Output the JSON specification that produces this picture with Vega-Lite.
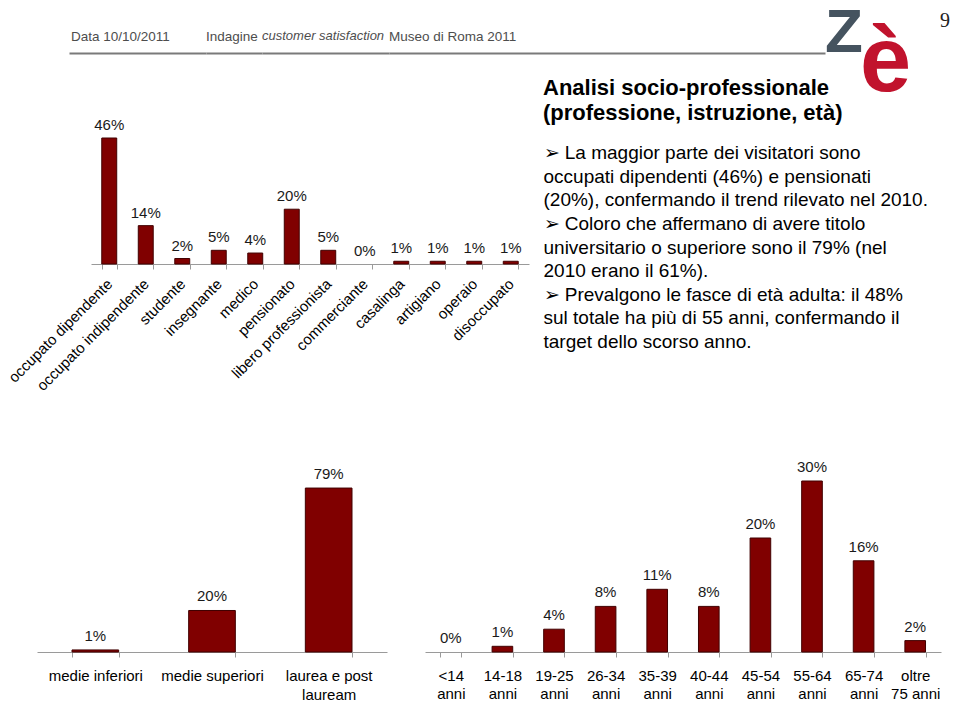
{
  "$schema": "https://vega.github.io/schema/vega-lite/v6.json",
  "background": "white",
  "padding": {"left": 5, "top": 2, "right": 0, "bottom": 0},
  "config": {
    "font": "Liberation Sans",
    "view": {"stroke": null},
    "title": {"font": "Liberation Sans", "color": "#000000", "fontWeight": "normal", "anchor": "start", "frame": "group"},
    "axis": {"labelFont": "Liberation Sans", "grid": false}
  },
  "datasets": {
    "professione": [
      {"professione": "occupato dipendente", "quota": 0.46},
      {"professione": "occupato indipendente", "quota": 0.14},
      {"professione": "studente", "quota": 0.02},
      {"professione": "insegnante", "quota": 0.05},
      {"professione": "medico", "quota": 0.04},
      {"professione": "pensionato", "quota": 0.20},
      {"professione": "libero professionista", "quota": 0.05},
      {"professione": "commerciante", "quota": 0.00},
      {"professione": "casalinga", "quota": 0.01},
      {"professione": "artigiano", "quota": 0.01},
      {"professione": "operaio", "quota": 0.01},
      {"professione": "disoccupato", "quota": 0.01}
    ],
    "istruzione": [
      {"titolo": "medie inferiori", "quota": 0.01},
      {"titolo": "medie superiori", "quota": 0.20},
      {"titolo": "laurea e post lauream", "quota": 0.79}
    ],
    "eta": [
      {"fascia": "<14 anni", "quota": 0.00},
      {"fascia": "14-18 anni", "quota": 0.01},
      {"fascia": "19-25 anni", "quota": 0.04},
      {"fascia": "26-34 anni", "quota": 0.08},
      {"fascia": "35-39 anni", "quota": 0.11},
      {"fascia": "40-44 anni", "quota": 0.08},
      {"fascia": "45-54 anni", "quota": 0.20},
      {"fascia": "55-64 anni", "quota": 0.30},
      {"fascia": "65-74 anni", "quota": 0.16},
      {"fascia": "oltre 75 anni", "quota": 0.02}
    ],
    "testo": [
      {"riga": 1, "testo": "➢ La maggior parte dei visitatori sono"},
      {"riga": 2, "testo": "occupati dipendenti (46%) e pensionati"},
      {"riga": 3, "testo": "(20%), confermando il trend rilevato nel 2010."},
      {"riga": 4, "testo": "➢ Coloro che affermano di avere titolo"},
      {"riga": 5, "testo": "universitario o superiore sono il 79% (nel"},
      {"riga": 6, "testo": "2010 erano il 61%)."},
      {"riga": 7, "testo": "➢ Prevalgono le fasce di età adulta: il 48%"},
      {"riga": 8, "testo": "sul totale ha più di 55 anni, confermando il"},
      {"riga": 9, "testo": "target dello scorso anno."}
    ],
    "vuoto": []
  },
  "bounds": "flush",
  "spacing": 428,
  "vconcat": [
    {
      "bounds": "flush",
      "spacing": 85,
      "vconcat": [
        {
          "bounds": "flush",
          "spacing": 0,
          "hconcat": [
            {
              "width": 169, "height": 1,
              "data": {"name": "vuoto"},
              "mark": "point",
              "encoding": {"x": {"field": "v", "type": "quantitative", "scale": {"domain": [0, 1], "range": [32, 169]}, "axis": {"orient": "top", "domain": true, "domainColor": "#7a7a7a", "domainWidth": 2, "ticks": false, "labels": false, "grid": false, "title": null}}},
              "title": {"text": "Data 10/10/2011", "dx": 34, "fontSize": 13.5, "color": "#4d4d4d", "offset": 10}
            },
            {
              "width": 56, "height": 1,
              "data": {"name": "vuoto"},
              "mark": "point",
              "encoding": {"x": {"field": "v", "type": "quantitative", "scale": {"domain": [0, 1]}, "axis": {"orient": "top", "domain": true, "domainColor": "#7a7a7a", "domainWidth": 2, "ticks": false, "labels": false, "grid": false, "title": null}}},
              "title": {"text": "Indagine", "fontSize": 13.5, "color": "#4d4d4d", "offset": 10}
            },
            {
              "width": 127, "height": 1,
              "data": {"name": "vuoto"},
              "mark": "point",
              "encoding": {"x": {"field": "v", "type": "quantitative", "scale": {"domain": [0, 1]}, "axis": {"orient": "top", "domain": true, "domainColor": "#7a7a7a", "domainWidth": 2, "ticks": false, "labels": false, "grid": false, "title": null}}},
              "title": {"text": "customer satisfaction", "fontSize": 13, "fontStyle": "italic", "color": "#4d4d4d", "offset": 10}
            },
            {
              "width": 436, "height": 1,
              "data": {"name": "vuoto"},
              "mark": "point",
              "encoding": {"x": {"field": "v", "type": "quantitative", "scale": {"domain": [0, 1]}, "axis": {"orient": "top", "domain": true, "domainColor": "#7a7a7a", "domainWidth": 2, "ticks": false, "labels": false, "grid": false, "title": null}}},
              "title": {"text": "Museo di Roma 2011", "fontSize": 13.5, "color": "#4d4d4d", "offset": 10}
            },
            {
              "width": 38, "height": 1,
              "data": {"name": "vuoto"},
              "mark": "point",
              "encoding": {},
              "title": {"text": "Z", "fontWeight": "bold", "fontSize": 62, "color": "#45535f", "baseline": "alphabetic", "offset": 0, "dy": 61}
            },
            {
              "width": 77, "height": 1,
              "data": {"name": "vuoto"},
              "mark": "point",
              "encoding": {},
              "title": {"text": "è", "fontWeight": "bold", "fontSize": 92, "color": "#c1132d", "baseline": "alphabetic", "offset": 0, "dy": 130, "dx": -3}
            },
            {
              "width": 18, "height": 1,
              "data": {"name": "vuoto"},
              "mark": "point",
              "encoding": {},
              "title": {"text": "9", "font": "Liberation Serif", "fontSize": 20, "color": "#222222", "baseline": "alphabetic", "offset": 0, "dy": -6}
            }
          ]
        },
        {
          "bounds": "flush",
          "spacing": 14,
          "hconcat": [
            {
              "width": 492, "height": 126,
              "data": {"name": "professione"},
              "encoding": {
                "x": {"field": "professione", "type": "nominal",
                  "sort": ["occupato dipendente", "occupato indipendente", "studente", "insegnante", "medico", "pensionato", "libero professionista", "commerciante", "casalinga", "artigiano", "operaio", "disoccupato"],
                  "scale": {"range": [54, 492], "paddingInner": 0.59, "paddingOuter": 0.295},
                  "axis": {"title": null, "labelAngle": -45, "labelAlign": "right", "labelBaseline": "middle", "labelFontSize": 15, "labelColor": "#000000", "labelPadding": 12, "labelOverlap": false, "labelLimit": 0, "tickBand": "extent", "tickSize": 5, "tickColor": "#9a9a9a", "domainColor": "#9a9a9a"}},
                "y": {"field": "quota", "type": "quantitative", "scale": {"domain": [0, 0.46], "nice": false}, "axis": null}
              },
              "layer": [
                {"transform": [{"filter": "datum.quota > 0"}], "mark": {"type": "bar", "color": "#800000", "stroke": "#400000", "strokeWidth": 1}},
                {"mark": {"type": "text", "dy": -13, "fontSize": 15, "color": "#1a1a1a", "baseline": "middle"}, "encoding": {"text": {"field": "quota", "format": ".0%"}}}
              ]
            },
            {
              "width": 1, "height": 219,
              "data": {"name": "testo"},
              "title": {"text": ["Analisi socio-professionale", "(professione, istruzione, età)"], "fontSize": 22, "fontWeight": "bold", "color": "#000000", "lineHeight": 25, "offset": 13},
              "mark": {"type": "text", "align": "left", "baseline": "middle", "fontSize": 19, "color": "#000000"},
              "encoding": {
                "y": {"field": "riga", "type": "ordinal", "scale": {"type": "point", "padding": 0.636}, "axis": null},
                "text": {"field": "testo"}
              }
            }
          ]
        }
      ]
    },
    {
      "bounds": "flush",
      "spacing": 38,
      "hconcat": [
        {
          "width": 350, "height": 171,
          "data": {"name": "istruzione"},
          "encoding": {
            "x": {"field": "titolo", "type": "nominal",
              "sort": ["medie inferiori", "medie superiori", "laurea e post lauream"],
              "scale": {"paddingInner": 0.6, "paddingOuter": 0.3},
              "axis": {"title": null, "labelAngle": 0, "labelFontSize": 15, "labelColor": "#000000", "labelPadding": 11, "labelLineHeight": 19, "labelBaseline": "top", "labelLimit": 0, "tickBand": "extent", "tickSize": 5, "tickColor": "#9a9a9a", "domainColor": "#9a9a9a",
                "labelExpr": "datum.label == 'laurea e post lauream' ? ['laurea e post', 'lauream'] : datum.label"}},
            "y": {"field": "quota", "type": "quantitative", "scale": {"domain": [0, 0.824], "nice": false}, "axis": null}
          },
          "layer": [
            {"transform": [{"filter": "datum.quota > 0"}], "mark": {"type": "bar", "color": "#800000", "stroke": "#400000", "strokeWidth": 1}},
            {"mark": {"type": "text", "dy": -14, "fontSize": 15, "color": "#1a1a1a", "baseline": "middle"}, "encoding": {"text": {"field": "quota", "format": ".0%"}}}
          ]
        },
        {
          "width": 516, "height": 171,
          "data": {"name": "eta"},
          "encoding": {
            "x": {"field": "fascia", "type": "nominal",
              "sort": ["<14 anni", "14-18 anni", "19-25 anni", "26-34 anni", "35-39 anni", "40-44 anni", "45-54 anni", "55-64 anni", "65-74 anni", "oltre 75 anni"],
              "scale": {"paddingInner": 0.6, "paddingOuter": 0.3},
              "axis": {"title": null, "labelAngle": 0, "labelFontSize": 15, "labelColor": "#000000", "labelPadding": 11, "labelLineHeight": 18, "labelBaseline": "top", "labelLimit": 0, "tickBand": "extent", "tickSize": 5, "tickColor": "#9a9a9a", "domainColor": "#9a9a9a",
                "labelExpr": "datum.label == 'oltre 75 anni' ? ['oltre', '75 anni'] : split(datum.label, ' ')"}},
            "y": {"field": "quota", "type": "quantitative", "scale": {"domain": [0, 0.30], "nice": false}, "axis": null}
          },
          "layer": [
            {"transform": [{"filter": "datum.quota > 0"}], "mark": {"type": "bar", "color": "#800000", "stroke": "#400000", "strokeWidth": 1}},
            {"mark": {"type": "text", "dy": -14, "fontSize": 15, "color": "#1a1a1a", "baseline": "middle"}, "encoding": {"text": {"field": "quota", "format": ".0%"}}}
          ]
        }
      ]
    }
  ]
}
